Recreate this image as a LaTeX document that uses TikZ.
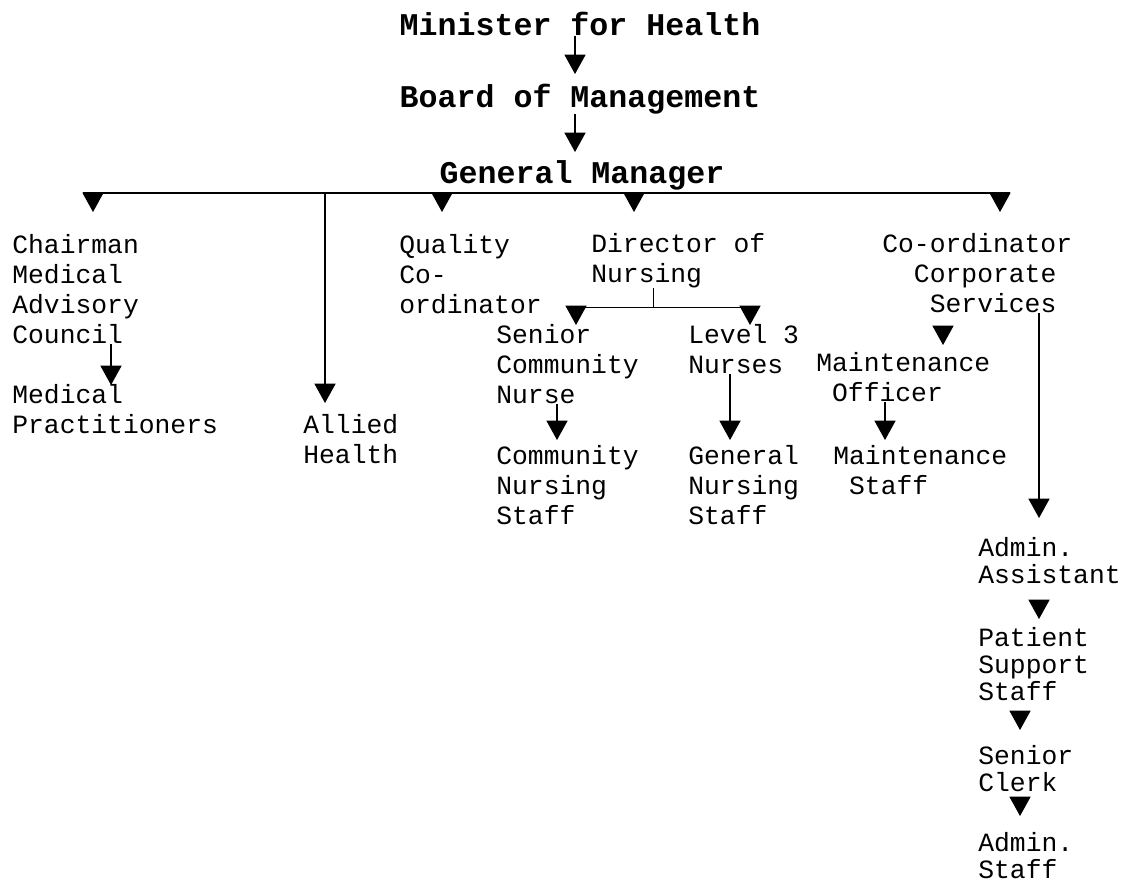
\documentclass[tikz,border=0pt]{standalone}
\usepackage{fontspec}
\setmonofont{Liberation Mono}
\usetikzlibrary{arrows.meta}

\tikzset{
  title/.style={font=\ttfamily\bfseries\fontsize{18}{21}\selectfont, inner sep=0pt, anchor=base},
  post/.style={font=\ttfamily\fontsize{15}{17.1}\selectfont, align=left, inner sep=0pt, anchor=north west},
  postr/.style={post, font=\ttfamily\fontsize{15}{15.4}\selectfont},
  arr/.style={-{Triangle[width=12pt,length=11pt]}, line width=0.6pt},
  bus/.style={line width=0.8pt}
}

\begin{document}
\begin{tikzpicture}[x=0.02cm, y=-0.02cm]
  \useasboundingbox (0,0) rectangle (1124,886);

  % top of the chart
  \node[title] (minister) at (580,35) {Minister for Health};
  \node[title] (board) at (580,107) {Board of Management};
  \node[title] (gm) at (582,183) {General Manager};

  % second level
  \node[post] (chair) at (12,234) {Chairman\\Medical\\Advisory\\Council};
  \node[post] (medprac) at (12,384) {Medical\\Practitioners};
  \node[post] (allied) at (303,414) {Allied\\Health};
  \node[post] (quality) at (399,234) {Quality\\Co-\\ordinator};
  \node[post] (don) at (591,233) {Director of\\Nursing};
  \node[post] (corp) at (882,233) {Co-ordinator\\\ \ Corporate\\\ \ \ Services};

  % nursing
  \node[post] (scn) at (496,324) {Senior\\Community\\Nurse};
  \node[post] (level3) at (688,324) {Level 3\\Nurses};
  \node[post] (cns) at (496,445) {Community\\Nursing\\Staff};
  \node[post] (gns) at (688,445) {General\\Nursing\\Staff};

  % corporate services
  \node[post] (mo) at (816,352) {Maintenance\\\ Officer};
  \node[post] (ms) at (833,445) {Maintenance\\\ Staff};
  \node[postr] (aa) at (978,537) {Admin.\\Assistant};
  \node[postr] (pss) at (978,627) {Patient\\Support\\Staff};
  \node[postr] (sc) at (978,745) {Senior\\Clerk};
  \node[postr] (as) at (978,832) {Admin.\\Staff};

  % arrow tips
  \coordinate (board-in) at (575,74);
  \coordinate (gm-in) at (575,152);
  \coordinate (busL) at (83,193);
  \coordinate (busR) at (1010,193);
  \coordinate (chair-in) at (93,212);
  \coordinate (allied-in) at (325,403);
  \coordinate (quality-in) at (442,212);
  \coordinate (don-in) at (634,212);
  \coordinate (corp-in) at (1000,212);
  \coordinate (medprac-in) at (111,385);
  \coordinate (don-split) at (653,307);
  \coordinate (scn-in) at (576,325);
  \coordinate (level3-in) at (750,325);
  \coordinate (cns-in) at (557,440);
  \coordinate (gns-in) at (730,440);
  \coordinate (mo-in) at (943,345);
  \coordinate (ms-in) at (885,440);
  \coordinate (aa-in) at (1039,518);
  \coordinate (pss-in) at (1039,619);
  \coordinate (sc-in) at (1020,730);
  \coordinate (as-in) at (1020,816);

  \draw[arr] (minister.south -| board-in) -- (board-in);
  \draw[arr] (board.south -| gm-in) -- (gm-in);
  \draw[bus] (busL) -- (busR);
  \draw[arr] (busL -| chair-in) -- (chair-in);
  \draw[arr] (busL -| allied-in) -- (allied-in);
  \draw[arr] (busL -| quality-in) -- (quality-in);
  \draw[arr] (busL -| don-in) -- (don-in);
  \draw[arr] (busL -| corp-in) -- (corp-in);
  \draw[arr] (chair.south -| medprac-in) -- (medprac-in);

  \draw (don.south -| don-split) -- (don-split);
  \draw (don-split -| 567,0) -- (don-split -| 759,0);
  \draw[arr] (don-split -| scn-in) -- (scn-in);
  \draw[arr] (don-split -| level3-in) -- (level3-in);
  \draw[arr] (scn.south -| cns-in) -- (cns-in);
  \draw[arr] (level3.south -| gns-in) -- (gns-in);

  \draw[arr] ([yshift=11pt]mo-in) -- (mo-in);
  \draw[arr] (mo.south -| ms-in) -- (ms-in);
  \draw[arr] (corp.south -| aa-in) -- (aa-in);
  \draw[arr] ([yshift=11pt]pss-in) -- (pss-in);
  \draw[arr] ([yshift=11pt]sc-in) -- (sc-in);
  \draw[arr] ([yshift=11pt]as-in) -- (as-in);
\end{tikzpicture}
\end{document}
